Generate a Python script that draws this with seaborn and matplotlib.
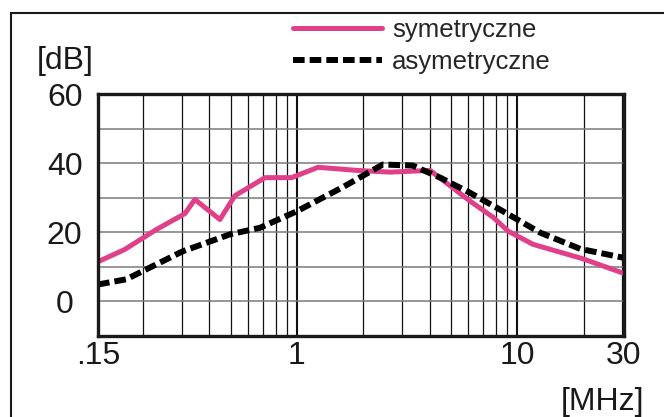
import numpy as np
import pandas as pd
import matplotlib
matplotlib.use("Agg")
import matplotlib.pyplot as plt
from matplotlib.patches import Rectangle
from matplotlib.ticker import FixedLocator, NullFormatter, LogLocator
import seaborn as sns

# dane (MHz, dB)
sym_x = [0.125, 0.165, 0.23, 0.31, 0.344, 0.447, 0.523, 0.716, 0.946, 1.246,
         1.87, 2.65, 4.02, 6.11, 7.78, 9.1, 11.8, 19.7, 30.5]
sym_y = [11.5, 15.0, 20.8, 25.4, 29.5, 23.7, 30.6, 35.8, 35.8, 38.8,
         37.9, 37.4, 37.9, 29.0, 24.3, 20.3, 16.5, 12.4, 8.1]

asym_x = [0.125, 0.168, 0.2, 0.303, 0.496, 0.679, 1.0, 1.62, 2.45, 3.35,
          4.47, 6.11, 8.6, 12.7, 19.3, 30.5]
asym_y = [4.9, 6.4, 8.8, 14.5, 19.4, 21.3, 26.1, 33.1, 39.6, 39.3,
          35.8, 31.4, 26.1, 19.9, 15.2, 12.6]

series_names = ["symetryczne", "asymetryczne"]
# skala rysunku: lewa krawedz opisana ".15", prawa "30"
x_ticks = [0.125, 1, 10, 30.5]
x_tick_labels = [".15", "1", "10", "30"]
y_ticks = [0, 20, 40, 60]
y_tick_labels = ["0", "20", "40", "60"]
y_minor = [-10, 10, 30, 50]

df_sym = pd.DataFrame({"f": sym_x, "db": sym_y})
df_asym = pd.DataFrame({"f": asym_x, "db": asym_y})

sns.set_style("white")
plt.rcParams['font.family'] = ['Liberation Sans', 'DejaVu Sans']
ink = "#1a1a1a"

fig = plt.figure(figsize=(6.64, 4.17), dpi=100)
ax = fig.add_axes([98 / 664, 1 - 336 / 417, 526 / 664, 242 / 417])

sns.lineplot(data=df_sym, x="f", y="db", color="#e0408a", lw=3.6,
             label=series_names[0], ax=ax)
sns.lineplot(data=df_asym, x="f", y="db", color="black", lw=4.3,
             linestyle=(0, (1.95, 0.84)), label=series_names[1], ax=ax)

ax.set_xscale("log")
ax.set_xlim(x_ticks[0], x_ticks[-1])
ax.set_ylim(-10, 60)
ax.set_xlabel("")
ax.set_ylabel("")

ax.xaxis.set_major_locator(FixedLocator(x_ticks))
ax.set_xticklabels(x_tick_labels)
ax.xaxis.set_minor_locator(LogLocator(base=10, subs=np.arange(2, 10)))
ax.xaxis.set_minor_formatter(NullFormatter())
ax.set_yticks(y_ticks)
ax.set_yticklabels(y_tick_labels)
ax.yaxis.set_minor_locator(FixedLocator(y_minor))

ax.tick_params(axis="both", which="both", length=0, labelsize=23,
               labelcolor=ink)
ax.tick_params(axis="x", pad=3.5)
ax.tick_params(axis="y", pad=24)
for lab in ax.get_yticklabels():
    lab.set_ha("center")

ax.grid(which="major", axis="x", color="#111111", lw=1.5)
ax.grid(which="minor", axis="x", color="#111111", lw=0.9)
ax.grid(which="both", axis="y", color="#7a7a7a", lw=1.1)
ax.set_axisbelow(True)

for sp in ax.spines.values():
    sp.set_visible(True)
    sp.set_color(ink)
    sp.set_linewidth(2.4)

fig.text(65 / 664, 1 - 61 / 417, "[dB]", ha="center", va="center",
         fontsize=23, color=ink)
fig.text(644 / 664, 1 - 402 / 417, "[MHz]", ha="right", va="center",
         fontsize=23, color=ink)

ax.legend(loc="upper left", bbox_to_anchor=(293 / 664, 1 - 18 / 417),
          bbox_transform=fig.transFigure, frameon=False, borderpad=0,
          borderaxespad=0, handlelength=3.45, handletextpad=0.4,
          labelspacing=0.3, fontsize=18.5)

# ramka wokol calego rysunku (ucieta z prawej i u dolu)
fig.patches.append(Rectangle((11 / 664, -0.1), 1.0, 1.1 - 13 / 417,
                             transform=fig.transFigure, fill=False,
                             lw=1.5, edgecolor=ink))

fig.savefig("out.png", dpi=100)
